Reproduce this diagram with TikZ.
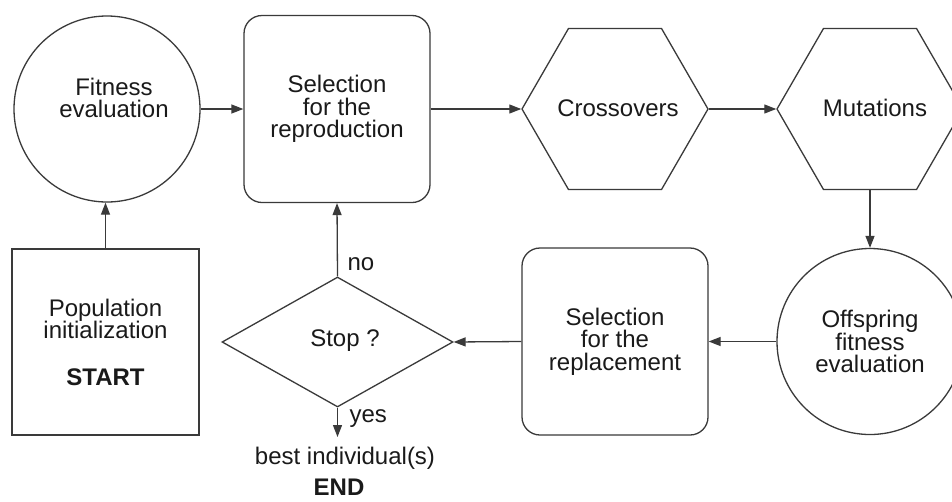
\documentclass[tikz,border=0pt]{standalone}
\usepackage{fontspec}
\setmainfont{Liberation Sans}
\usetikzlibrary{shapes.geometric,arrows.meta}
\definecolor{linegray}{HTML}{3A3A3A}
\definecolor{inkblack}{HTML}{1A1A1A}
\begin{document}
\begin{tikzpicture}[x=1pt,y=-1pt,
  every node/.style={text=inkblack,font=\fontsize{24}{22.5}\selectfont,align=center},
  shapeline/.style={draw=linegray,line width=1.3pt,inner sep=0pt},
  roundbox/.style={shapeline,rectangle,rounded corners=18pt,minimum width=186pt,minimum height=187pt},
  plainbox/.style={shapeline,rectangle,minimum width=187pt,minimum height=186pt},
  hexa/.style={shapeline,regular polygon,regular polygon sides=6,minimum size=186pt},
  roundnode/.style={shapeline,circle,minimum size=186pt},
  decision/.style={shapeline,diamond,minimum width=231pt,minimum height=130pt},
  flow/.style={draw=linegray,line width=1.3pt,-{Triangle[length=12pt,width=9pt]}},
  tag/.style={anchor=west}
]
\clip (0,0) rectangle (952,501);
\fill[white] (0,0) rectangle (952,501);

% upper row: evaluation, selection, variation operators
\node[roundnode] (fit) at (107,109) {};
\node (fittext) at (114,98) {Fitness\\evaluation};
\node[roundbox] (selr) at (337,109) {Selection\\for the\\reproduction};
\node[hexa] (cross) at (615,109) {};
\node (crosstext) at (618,108) {Crossovers};
\node[hexa] (mut) at (870,109) {};
\node (muttext) at (875,108) {Mutations};

% lower row: initialization, stop test, replacement, offspring evaluation
\node[plainbox] (pop) at (105.5,342) {Population\\initialization\\[24pt]\textbf{START}};
\node[decision] (stop) at (337.5,342) {};
\node (stoptext) at (345,341) {Stop ?};
\node[roundbox] (repl) at (615,341.5) {Selection\\for the\\replacement};
\node[roundnode] (off) at (870,341.5) {Offspring\\fitness\\evaluation};

% end of the run
\coordinate (endtip) at (337.5,437);
\node (best) at (345,458) {best individual(s)};
\node (endtext) at (339,487) {\textbf{END}};

% connectors
\draw[flow] (pop.north) -- (pop.north |- fit.south);
\draw[flow] (fit.east) -- (selr.west);
\draw[flow] (selr.east) -- (cross.west);
\draw[flow] (cross.east) -- (mut.west);
\draw[flow] (mut.south) -- (off.north);
\draw[flow] (off.west) -- (repl.east);
\draw[flow] (repl.west) -- (stop.east);
\draw[flow] (stop.north) -- (selr.south);
\draw[flow] (stop.south) -- (endtip);

% branch labels
\node[tag] (nolbl) at (344,264) {no};
\node[tag] (yeslbl) at (346,419) {yes};
\end{tikzpicture}
\end{document}
